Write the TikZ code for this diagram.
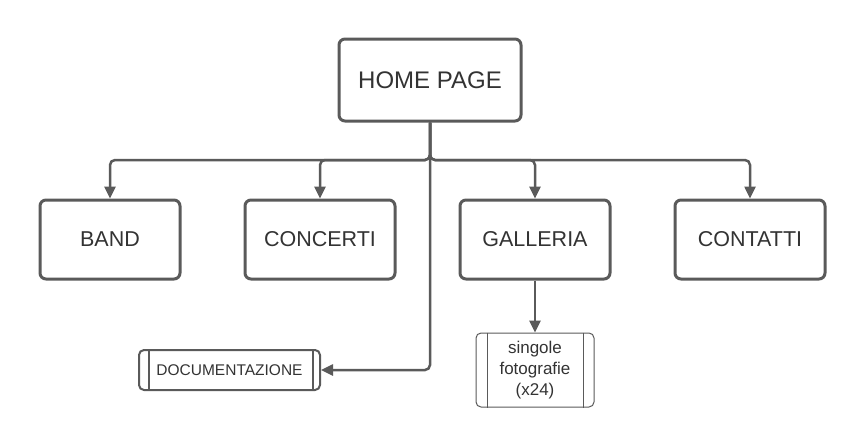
\documentclass[tikz,border=0pt]{standalone}
\usepackage{fontspec}
\setmainfont{Liberation Sans}
\usetikzlibrary{arrows.meta,calc}
\definecolor{bord}{HTML}{5A5A5A}
\definecolor{txt}{HTML}{333333}
\tikzset{
  mainbox/.style={draw=bord, line width=3pt, rounded corners=6pt, fill=white, text=txt,
    minimum width=150pt, minimum height=79pt, inner sep=0pt, font=\fontsize{21.5}{26}\selectfont},
  subbox/.style={draw=bord, rounded corners=5pt, fill=white, text=txt, inner sep=0pt},
  conn/.style={draw=bord, line width=2.5pt, rounded corners=5pt, -{Triangle[length=12pt,width=11pt]}},
}
\begin{document}
\begin{tikzpicture}[x=1pt,y=-1pt]
\useasboundingbox (0,0) rectangle (865,447);
\node[mainbox, minimum width=182pt, minimum height=82pt, font=\fontsize{24}{28}\selectfont] (home) at (430,80) {HOME PAGE};
\node[mainbox, minimum width=140pt] (band) at (110,239.5) {BAND};
\node[mainbox] (conc) at (320,239.5) {CONCERTI};
\node[mainbox] (gall) at (535,239.5) {GALLERIA};
\node[mainbox] (cont) at (750,239.5) {CONTATTI};
\node[subbox, line width=2pt, minimum width=181pt, minimum height=40pt, font=\fontsize{15.5}{18}\selectfont] (doc) at (229.5,370) {DOCUMENTAZIONE};
\draw[bord, line width=2pt] ([xshift=11pt]doc.north west) -- ([xshift=11pt]doc.south west)
  ([xshift=-8pt]doc.north east) -- ([xshift=-8pt]doc.south east);
\node[subbox, line width=1pt, minimum width=118pt, minimum height=74pt, align=center, font=\fontsize{17}{21}\selectfont] (foto) at (535,370) {singole\\fotografie\\(x24)};
\draw[bord, line width=1pt] ([xshift=12pt]foto.north west) -- ([xshift=12pt]foto.south west)
  ([xshift=-11pt]foto.north east) -- ([xshift=-11pt]foto.south east);
\coordinate (bus) at (430,160);
\draw[conn] (home.south) |- (bus) -| (band.north);
\draw[conn] (home.south) |- (bus) -| (conc.north);
\draw[conn] (home.south) |- (bus) -| (gall.north);
\draw[conn] (home.south) |- (bus) -| (cont.north);
\draw[conn] (home.south) |- (doc.east);
\draw[conn] (gall.south) -- (foto.north);
\end{tikzpicture}
\end{document}
